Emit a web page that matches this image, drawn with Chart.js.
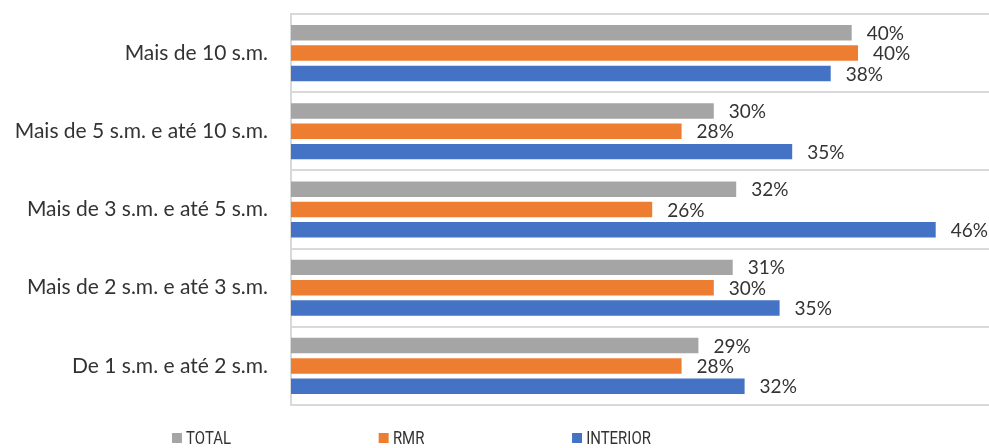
<!DOCTYPE html>
<html>
<head>
<meta charset="utf-8">
<script src="https://cdn.jsdelivr.net/npm/chart.js@4.4.0/dist/chart.umd.min.js"></script>
<style>
  html, body { margin: 0; padding: 0; background: #fff; overflow: hidden; }
  #wrap { position: relative; width: 989px; height: 448px; overflow: hidden; }
  #chart { position: absolute; left: 0; top: 0; }
  #legend {
    position: absolute; left: 172px; top: 427px;
    display: flex; gap: 178px;
    font: 18px Roboto, sans-serif; color: #333;
    transform: scaleX(0.83); transform-origin: left center;
  }
  #legend .item { display: flex; align-items: center; white-space: nowrap; }
  #legend .box { width: 12px; height: 10px; margin-right: 5px; }
</style>
</head>
<body>
<div id="wrap">
  <canvas id="chart" width="1000" height="448"></canvas>
  <div id="legend"></div>
</div>
<script>
// categories, top to bottom
const categories = [
  'Mais de 10 s.m.',
  'Mais de 5 s.m. e até 10 s.m.',
  'Mais de 3 s.m. e até 5 s.m.',
  'Mais de 2 s.m. e até 3 s.m.',
  'De 1 s.m. e até 2 s.m.'
];

// bar lengths (%)
const totalValues    = [40.05, 30.2, 31.8, 31.55, 29.1];
const rmrValues      = [40.5, 27.9, 25.8, 30.2, 27.9];
const interiorValues = [38.55, 35.8, 46.05, 34.9, 32.4];

// printed labels
const totalText    = ['40%', '30%', '32%', '31%', '29%'];
const rmrText      = ['40%', '28%', '26%', '30%', '28%'];
const interiorText = ['38%', '35%', '46%', '35%', '32%'];

const GRID = '#d9d9d9';
const TEXT = '#333333';

// simple value labels at the end of each bar
const barLabels = {
  id: 'barLabels',
  afterDatasetsDraw(chart) {
    const ctx = chart.ctx;
    ctx.save();
    ctx.font = '19px Lato, sans-serif';
    ctx.fillStyle = TEXT;
    ctx.textAlign = 'left';
    ctx.textBaseline = 'middle';
    chart.data.datasets.forEach((ds, i) => {
      chart.getDatasetMeta(i).data.forEach((bar, j) => {
        ctx.fillText(ds.texts[j], bar.x + 15, bar.y + 1);
      });
    });
    ctx.restore();
  }
};

const chart = new Chart(document.getElementById('chart'), {
  type: 'bar',
  data: {
    labels: categories,
    datasets: [
      { label: 'TOTAL', data: totalValues, texts: totalText, backgroundColor: '#a5a5a5' },
      { label: 'RMR', data: rmrValues, texts: rmrText, backgroundColor: '#ed7d31' },
      { label: 'INTERIOR', data: interiorValues, texts: interiorText, backgroundColor: '#4472c4' }
    ]
  },
  options: {
    indexAxis: 'y',
    responsive: false,
    animation: false,
    categoryPercentage: 0.78,
    barPercentage: 0.76,
    layout: { padding: { top: 14, bottom: 43, left: 0, right: 9 } },
    plugins: {
      legend: { display: false },
      tooltip: { enabled: false }
    },
    scales: {
      x: { display: false, min: 0, max: 50 },
      y: {
        grid: { color: GRID, lineWidth: 2, drawTicks: false, offset: true },
        border: { color: GRID, width: 2 },
        ticks: { padding: 23, color: TEXT, font: { family: 'Lato, sans-serif', size: 21 } },
        afterFit(scale) {
          scale.width = 291;
          scale.paddingTop = 0;
          scale.paddingBottom = 0;
        }
      }
    }
  },
  plugins: [barLabels]
});

// legend drawn as html under the plot
const legendEl = document.getElementById('legend');
chart.data.datasets.forEach(ds => {
  const item = document.createElement('div');
  item.className = 'item';
  const box = document.createElement('span');
  box.className = 'box';
  box.style.background = ds.backgroundColor;
  const txt = document.createElement('span');
  txt.textContent = ds.label;
  item.appendChild(box);
  item.appendChild(txt);
  legendEl.appendChild(item);
});
</script>
</body>
</html>
